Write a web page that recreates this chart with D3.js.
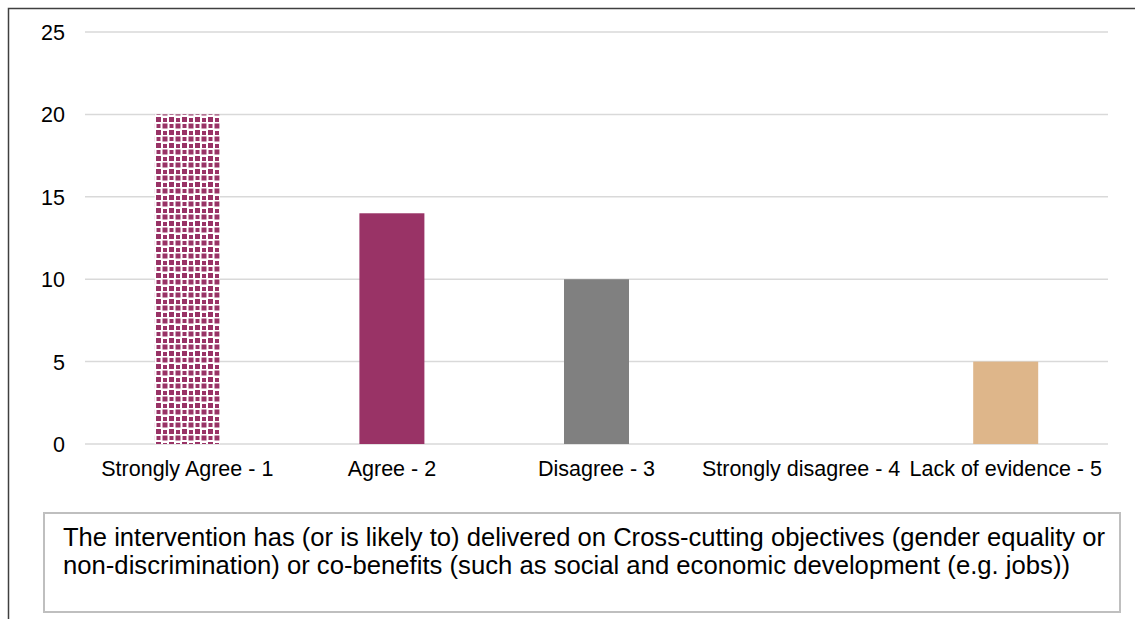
<!DOCTYPE html>
<html>
<head>
<meta charset="utf-8">
<script src="https://cdn.jsdelivr.net/npm/d3@7"></script>
<style>
  html, body { margin: 0; padding: 0; background: #fff; }
  svg { display: block; font-family: Arial, "Liberation Sans", sans-serif; }
</style>
</head>
<body>
<svg id="chart" width="1135" height="619"></svg>
<script>
// Survey responses per rating
const categories = ["Strongly Agree - 1", "Agree - 2", "Disagree - 3", "Strongly disagree - 4", "Lack of evidence - 5"];
const counts = [20, 14, 10, 0, 5];
const fills = ["url(#checker)", "#993366", "#808080", "#993366", "#deb68a"];
const yTicks = [0, 5, 10, 15, 20, 25];
const caption = [
  "The intervention has (or is likely to) delivered on Cross-cutting objectives (gender equality or",
  "non-discrimination) or co-benefits (such as social and economic development (e.g. jobs))"
];
const captionWidths = [1042, 1007];

const svg = d3.select("#chart");
const FONT = "Arial, 'Liberation Sans', sans-serif";

// Confetti-style checkered fill for the first bar
const defs = svg.append("defs");
const pat = defs.append("pattern")
  .attr("id", "checker")
  .attr("patternUnits", "userSpaceOnUse")
  .attr("width", 13).attr("height", 13);
pat.append("rect").attr("width", 13).attr("height", 13).attr("fill", "#fff");
[[0, 0, 5], [6.5, 6.5, 5], [7, 1, 4], [0.5, 7, 4]].forEach(([px, py, s]) => {
  pat.append("rect").attr("x", px).attr("y", py).attr("width", s).attr("height", s).attr("fill", "#993366");
});

// Outer frame
svg.append("path")
  .attr("d", "M8.5,619 V8.5 H1135")
  .attr("fill", "none").attr("stroke", "#404040").attr("stroke-width", 1.5);

const plot = { left: 85, right: 1108, top: 32, bottom: 444 };

const x = d3.scaleBand()
  .domain(categories)
  .range([plot.left, plot.right])
  .paddingInner(0).paddingOuter(0);

const y = d3.scaleLinear()
  .domain([0, 25])
  .range([plot.bottom, plot.top]);

// Gridlines
svg.append("g")
  .selectAll("line")
  .data(yTicks)
  .join("line")
  .attr("x1", plot.left).attr("x2", plot.right)
  .attr("y1", d => y(d)).attr("y2", d => y(d))
  .attr("stroke", "#d9d9d9").attr("stroke-width", 1.5);

// Y axis labels
const yAxis = d3.axisLeft(y).tickValues(yTicks).tickSize(0).tickPadding(0);
const gy = svg.append("g").attr("transform", "translate(65,0)").call(yAxis);
gy.select(".domain").remove();
gy.attr("font-size", null).attr("font-family", null);
gy.selectAll("text").attr("font-size", 21.5).attr("fill", "#000")
  .attr("font-family", FONT).attr("dy", "0.35em");

// Bars
const barW = 65;
svg.append("g")
  .selectAll("rect")
  .data(categories.map((c, i) => ({ c, v: counts[i], f: fills[i] })))
  .join("rect")
  .attr("x", d => x(d.c) + x.bandwidth() / 2 - barW / 2)
  .attr("width", barW)
  .attr("y", d => y(d.v))
  .attr("height", d => y(0) - y(d.v))
  .attr("fill", d => d.f);

// X axis labels
const xAxis = d3.axisBottom(x).tickSize(0).tickPadding(0);
const gx = svg.append("g").attr("transform", `translate(0,${plot.bottom})`).call(xAxis);
gx.select(".domain").remove();
gx.attr("font-size", null).attr("font-family", null);
gx.selectAll("text").attr("font-size", 21.5).attr("fill", "#000")
  .attr("font-family", FONT).attr("dy", null).attr("y", 32);

// Caption box
svg.append("rect")
  .attr("x", 44).attr("y", 513).attr("width", 1076).attr("height", 99)
  .attr("fill", "#fff").attr("stroke", "#bfbfbf").attr("stroke-width", 2);

svg.append("g")
  .selectAll("text")
  .data(caption)
  .join("text")
  .attr("x", 63)
  .attr("y", (d, i) => 546 + i * 28)
  .attr("font-size", 25)
  .attr("font-family", FONT)
  .attr("fill", "#000")
  .attr("textLength", (d, i) => captionWidths[i])
  .attr("lengthAdjust", "spacingAndGlyphs")
  .text(d => d);
</script>
</body>
</html>
